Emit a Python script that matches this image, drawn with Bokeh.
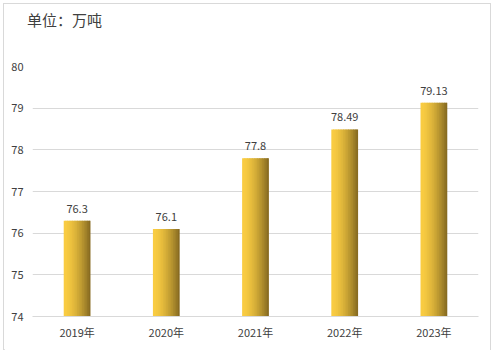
from bokeh.plotting import figure
from bokeh.models import ColumnDataSource, LabelSet, Div, FactorRange, Range1d
from bokeh.layouts import column
from bokeh.transform import dodge
from bokeh.embed import file_html
from bokeh.resources import INLINE
from bokeh.core.properties import value

years = ["2019年", "2020年", "2021年", "2022年", "2023年"]
values = [76.3, 76.1, 77.8, 78.49, 79.13]
labels = ["76.3", "76.1", "77.8", "78.49", "79.13"]
y_ticks = [74, 75, 76, 77, 78, 79, 80]
unit_text = "单位：万吨"

FONT = "Noto Sans CJK SC"

src = ColumnDataSource(dict(x=years, top=values, label=labels))

p = figure(x_range=FactorRange(*years, range_padding=0), y_range=Range1d(74, 80),
           width=486, height=305, output_backend="svg", toolbar_location=None,
           min_border_left=28, min_border_right=12, min_border_top=17, min_border_bottom=38)
p.outline_line_color = None
p.background_fill_color = "white"
p.border_fill_color = "white"

# gradient bar: thin slices
bar_w = 0.30
n = 16
c0 = (249, 204, 66)
c1 = (136, 108, 34)
for i in range(n):
    t = i / (n - 1)
    k = t ** 1.6
    col = tuple(int(round(c0[j] + (c1[j] - c0[j]) * k)) for j in range(3))
    off = -bar_w / 2 + bar_w * (i + 0.5) / n
    w = bar_w / n * (1.6 if i < n - 1 else 1.0)
    if i < n - 1:
        off += bar_w / n * 0.3
    p.vbar(x=dodge("x", off, range=p.x_range), top="top", bottom=74, width=w,
           source=src, fill_color="#%02x%02x%02x" % col, line_color=None)

p.add_layout(LabelSet(x="x", y="top", text="label", source=src, y_offset=8,
                      text_align="center", text_baseline="bottom",
                      text_font=value(FONT), text_font_size="11px", text_color="#404040"))

p.yaxis.ticker = y_ticks
p.yaxis.axis_line_color = None
p.yaxis.major_tick_line_color = None
p.yaxis.minor_tick_line_color = None
p.yaxis.major_label_text_font = FONT
p.yaxis.major_label_text_font_size = "11px"
p.yaxis.major_label_text_color = "#404040"
p.yaxis.major_label_standoff = 3

p.xaxis.axis_line_color = "#d9d9d9"
p.xaxis.major_tick_line_color = None
p.xaxis.minor_tick_line_color = None
p.xaxis.major_label_text_font = FONT
p.xaxis.major_label_text_font_size = "11px"
p.xaxis.major_label_text_color = "#404040"
p.xaxis.major_label_standoff = 1

p.xgrid.grid_line_color = None
p.ygrid.grid_line_color = "#d9d9d9"
p.ygrid.grid_line_width = 1

title_div = Div(text=unit_text, width=468, height=35,
                styles={"font-family": FONT, "font-size": "15px", "color": "#404040",
                        "padding-top": "2px", "padding-left": "18px",
                        "line-height": "18px", "background": "white"})

layout = column(title_div, p, width=488, height=347,
                styles={"border": "1px solid #d9d9d9", "margin": "3px 0 0 3px",
                        "box-sizing": "border-box", "background": "white"})

open("out.html", "w").write(file_html(layout, INLINE))
